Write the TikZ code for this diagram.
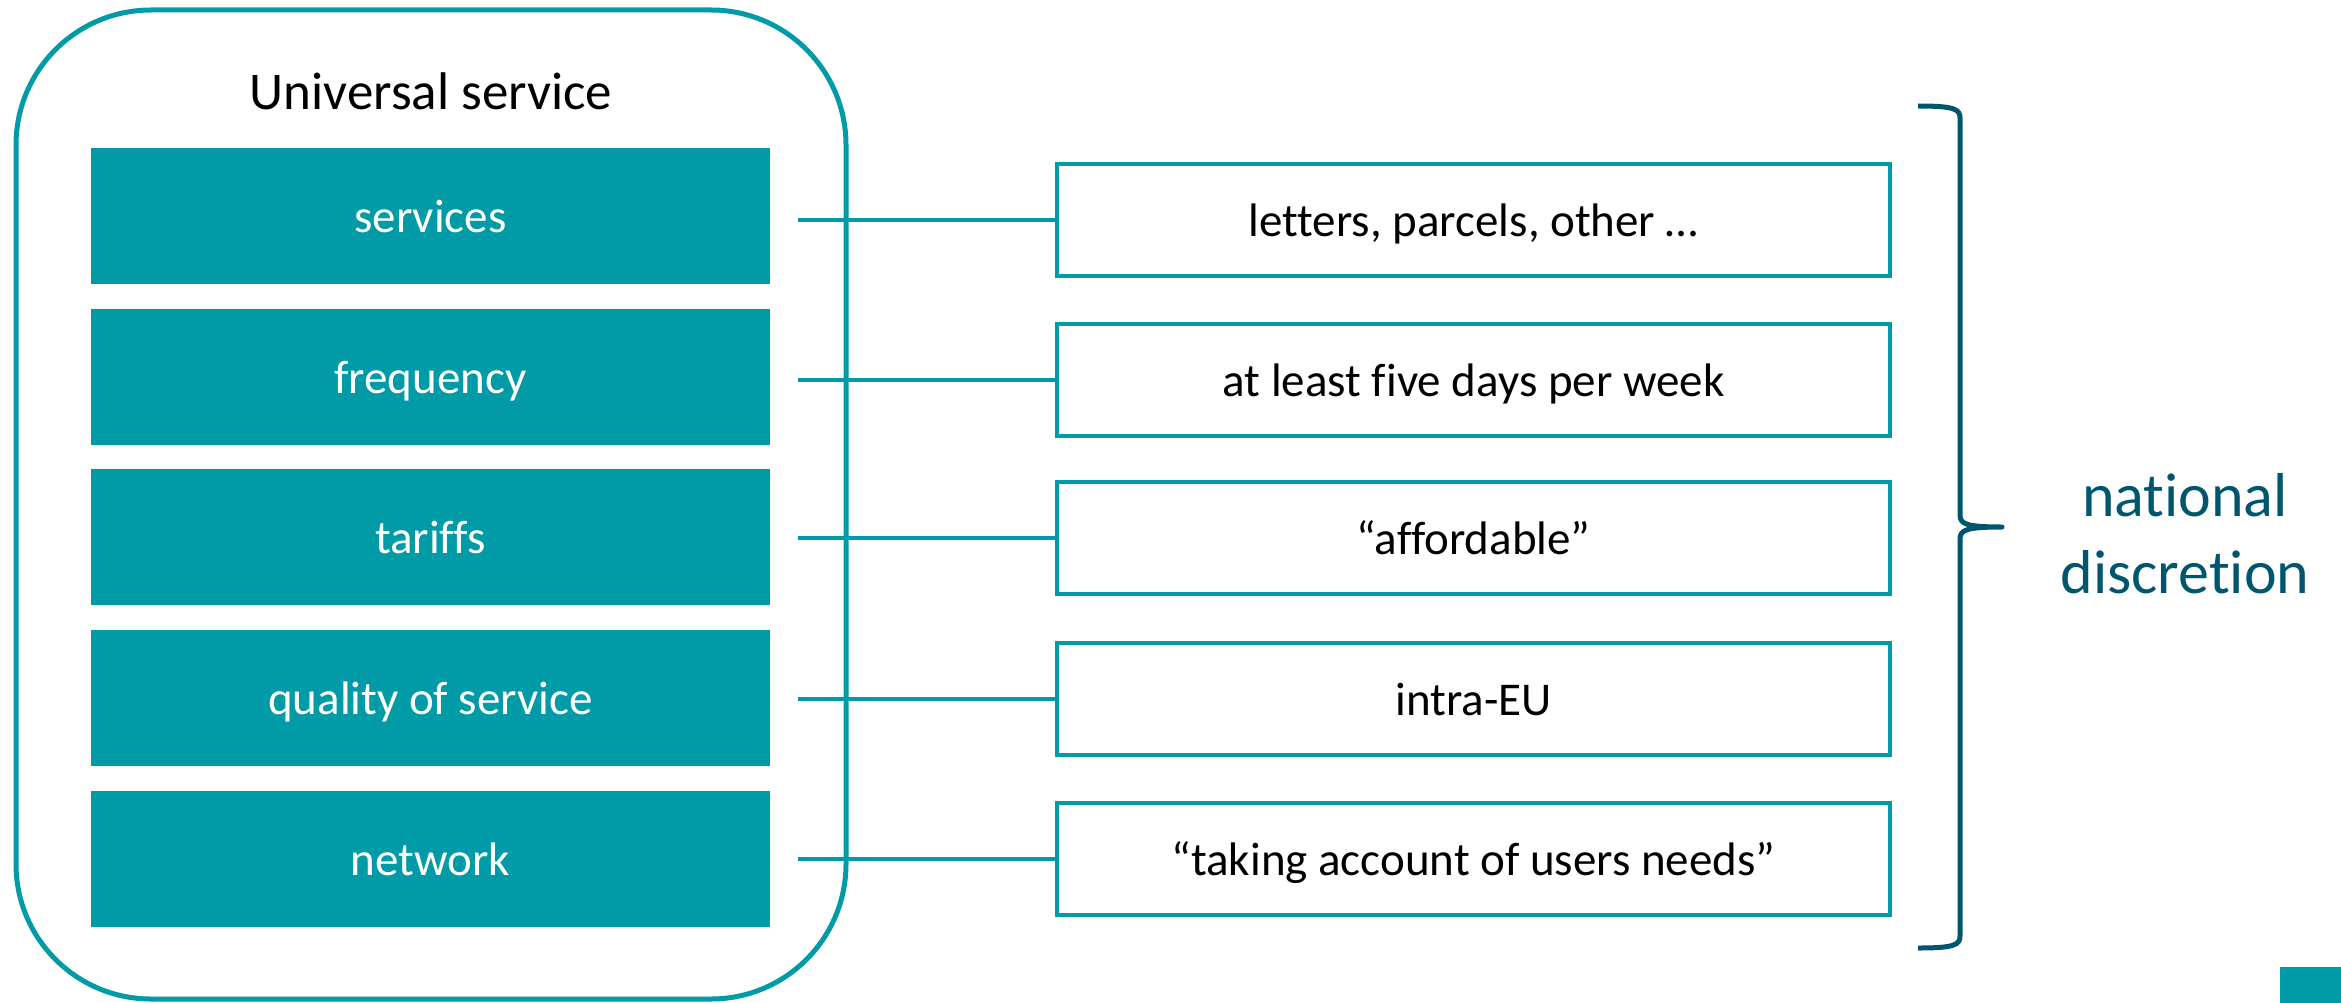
\documentclass[tikz,border=0pt]{standalone}
\usepackage{fontspec}
\setmainfont{Carlito}[Ligatures=NoCommon]
\definecolor{tealc}{HTML}{009BA6}
\definecolor{darkc}{HTML}{00566E}
\begin{document}
\begin{tikzpicture}[x=1pt,y=-1pt,
  tealbox/.style={fill=tealc, draw=none, minimum width=679pt, minimum height=136pt, inner sep=0pt,
    text=white, font=\fontsize{47}{56}\selectfont, text height=40pt, text depth=8pt},
  whitebox/.style={fill=white, draw=tealc, line width=4pt, minimum width=833pt, minimum height=112pt, inner sep=0pt,
    text=black, font=\fontsize{47}{56}\selectfont, text height=40pt, text depth=8pt},
  conn/.style={draw=tealc, line width=4pt}]
\useasboundingbox (0,0) rectangle (2341,1003);
% outer rounded container
\node[draw=tealc, line width=5pt, rounded corners=135pt, minimum width=830pt, minimum height=989pt, inner sep=0pt] (outer) at (431,504.5) {};
\node[anchor=base, font=\fontsize{53}{64}\selectfont] (title) at (431,110) {Universal service};
% teal boxes
\node[tealbox] (t1) at (430.5,216) {services};
\node[tealbox] (t2) at (430.5,377) {frequency};
\node[tealbox] (t3) at (430.5,537) {tariffs};
\node[tealbox] (t4) at (430.5,698) {quality of service};
\node[tealbox] (t5) at (430.5,859) {network};
% white boxes
\node[whitebox] (w1) at (1473.5,220) {letters, parcels, other …};
\node[whitebox] (w2) at (1473.5,380) {at least five days per week};
\node[whitebox] (w3) at (1473.5,538) {“affordable”};
\node[whitebox] (w4) at (1473.5,699) {intra-EU};
\node[whitebox] (w5) at (1473.5,859) {“taking account of users needs”};
% connectors
\coordinate (c1) at (798,220);
\coordinate (c2) at (798,380);
\coordinate (c3) at (798,538);
\coordinate (c4) at (798,699);
\coordinate (c5) at (798,859);
\draw[conn] (c1) -- (w1.west);
\draw[conn] (c2) -- (w2.west);
\draw[conn] (c3) -- (w3.west);
\draw[conn] (c4) -- (w4.west);
\draw[conn] (c5) -- (w5.west);
% brace
\draw[darkc, line width=5pt, line join=round]
  (1918,106) .. controls (1954,106) and (1960,109) .. (1960,118) -- (1960,515)
  .. controls (1960,524) and (1966,527) .. (2002,527)
  .. controls (1966,527) and (1960,530) .. (1960,539) -- (1960,936)
  .. controls (1960,945) and (1954,948) .. (1918,948);
\node[text=darkc, align=center, font=\fontsize{62}{77}\selectfont, inner sep=0pt] (nd) at (2185,534) {national\\discretion};
% corner mark
\fill[tealc] (2280,967) rectangle (2341,1003);
\end{tikzpicture}
\end{document}
